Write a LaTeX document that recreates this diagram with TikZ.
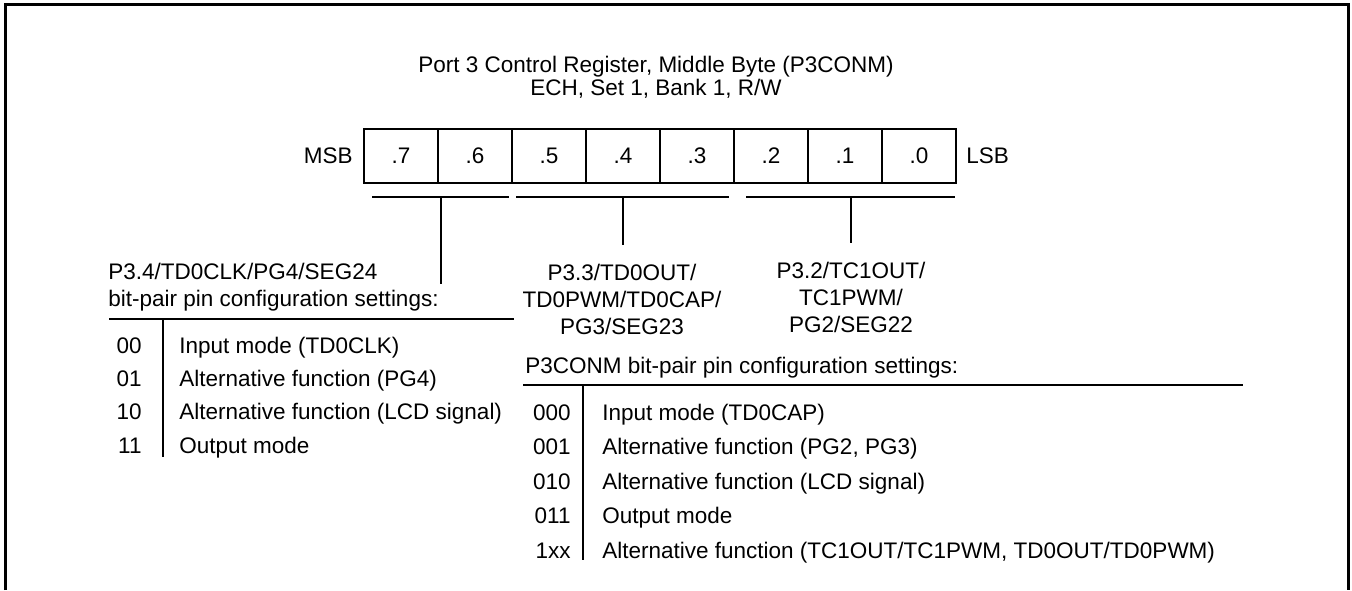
\documentclass[tikz,border=0pt]{standalone}
\usepackage{fontspec}
\setmainfont{Liberation Sans}
\usetikzlibrary{positioning,calc}

\begin{document}
\begin{tikzpicture}[x=0.5pt,y=-0.5pt,
  font=\fontsize{11.25}{13.5}\selectfont,
  ln/.style={line width=1pt},
  cell/.style={draw,line width=1pt,minimum width=37pt,minimum height=27pt,
               inner sep=0pt,outer sep=0pt},
  lbl/.style={align=center,inner sep=0pt,anchor=base},
  txt/.style={anchor=base west,inner sep=0pt},
  code/.style={anchor=base east,inner sep=0pt}]
\useasboundingbox (0,0) rectangle (1352,590);
\draw[line width=1.5pt] (5,590) -- (5,4) -- (1348,4) -- (1348,590);
% register
\node[lbl,font=\fontsize{11.25}{10}\selectfont] (title) at (656,95)
  {Port 3 Control Register, Middle Byte (P3CONM)\\ECH, Set 1, Bank 1, R/W};
\foreach \b in {7,...,0}
  \node[cell] (b\b) at ({401+74*(7-\b)},156) {.\b};
\node[inner sep=0pt,left=5.5pt of b7] (msb) {MSB};
\node[inner sep=0pt,right=5pt of b0] (lsb) {LSB};
% bit groups
\coordinate (g1a) at ([xshift=4pt,yshift=-7pt]b7.south west);
\coordinate (g1b) at ([xshift=-1.5pt,yshift=-7pt]b6.south east);
\coordinate (g2a) at ([xshift=2pt,yshift=-7pt]b5.south west);
\coordinate (g2b) at ([xshift=-2.5pt,yshift=-7pt]b3.south east);
\coordinate (g3a) at ([xshift=6pt,yshift=-7pt]b2.south west);
\coordinate (g3b) at ([xshift=-0.5pt,yshift=-7pt]b0.south east);
\node[lbl,align=left,anchor=base west] (pin4) at (108,306)
  {P3.4/TD0CLK/PG4/SEG24\\bit-pair pin configuration settings:};
\node[lbl] (pin3) at (622,334) {P3.3/TD0OUT/\\TD0PWM/TD0CAP/\\PG3/SEG23};
\node[lbl] (pin2) at (851,332) {P3.2/TC1OUT/\\TC1PWM/\\PG2/SEG22};
\coordinate (s1) at ($(g1a)!.5!(g1b)$);
\draw[ln] (g1a) -- (g1b) (g2a) -- (g2b) (g3a) -- (g3b);
\draw[ln] (s1) -- (s1 |- 0,284);
\draw[ln] ($(g2a)!.5!(g2b)$) -- ++(0,48);
\draw[ln] ($(g3a)!.5!(g3b)$) -- ++(0,46);
% left table
\draw[ln] (109,319) -- (514,319);
\draw[ln] (163,319) -- (163,457);
\foreach \c/\t [count=\i] in {00/Input mode (TD0CLK),01/Alternative function (PG4),
    10/Alternative function (LCD signal),11/Output mode}{
  \node[code] (lc\i) at (142,{320+33.3*\i}) {\c};
  \node[txt] (lt\i) at (179,{320+33.3*\i}) {\t};
}
% right table
\node[txt] (conm) at (525,373) {P3CONM bit-pair pin configuration settings:};
\draw[ln] (523,385) -- (1243,385);
\draw[ln] (583,385) -- (583,560);
\foreach \c/\t [count=\i] in {000/{Input mode (TD0CAP)},001/{Alternative function (PG2, PG3)},
    010/{Alternative function (LCD signal)},011/{Output mode},
    1xx/{Alternative function (TC1OUT/TC1PWM, TD0OUT/TD0PWM)}}{
  \node[code] (rc\i) at (571,{385.4+34.6*\i}) {\c};
  \node[txt] (rt\i) at (602,{385.4+34.6*\i}) {\t};
}
\end{tikzpicture}
\end{document}
